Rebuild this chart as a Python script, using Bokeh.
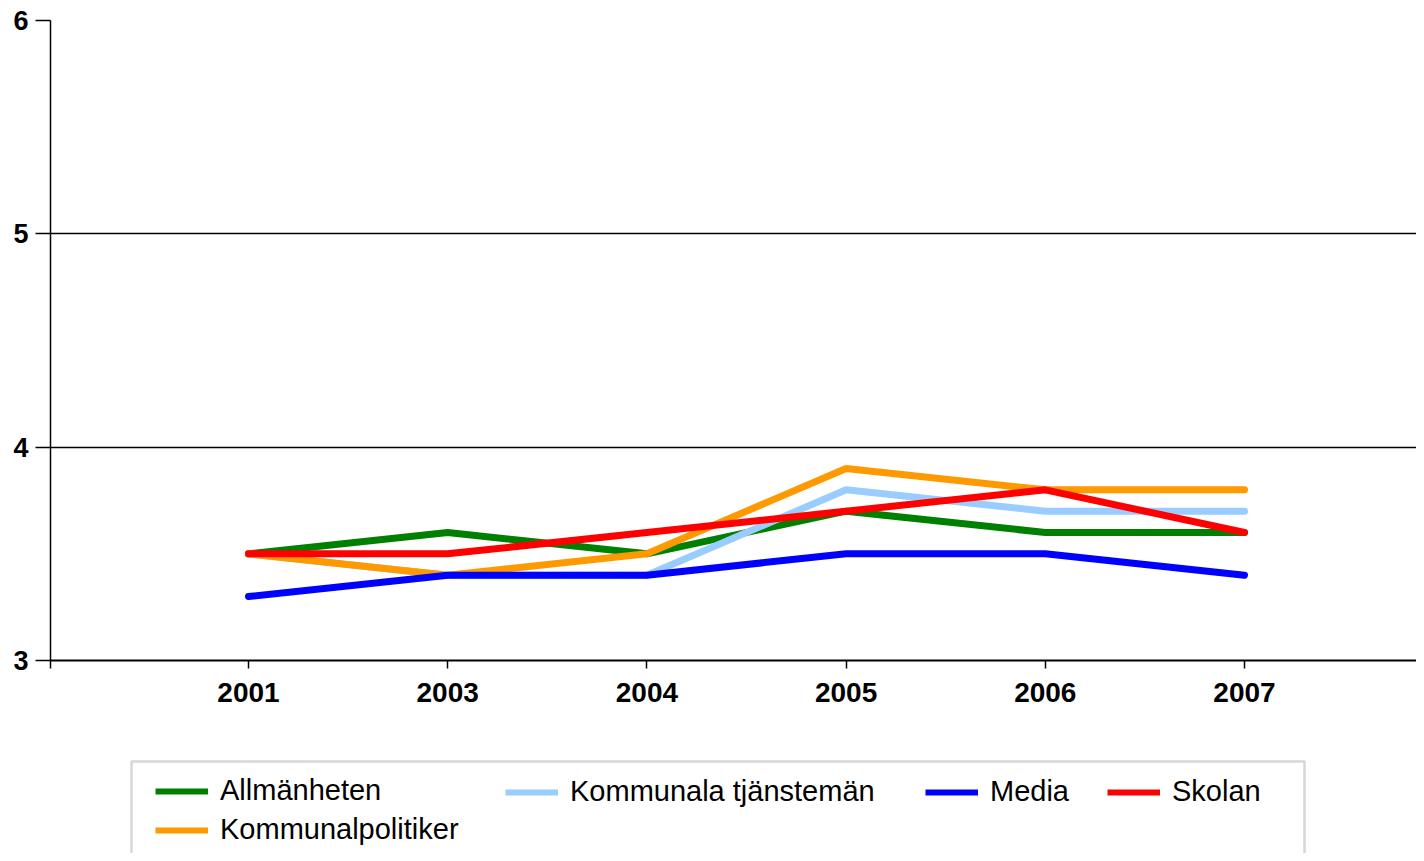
from bokeh.plotting import figure
from bokeh.models import Range1d, FixedTicker, Legend, LegendItem, BoxAnnotation
from bokeh.layouts import column
from bokeh.embed import file_html
from bokeh.resources import INLINE

years = ["2001", "2003", "2004", "2005", "2006", "2007"]
allmanheten = [3.5, 3.6, 3.5, 3.7, 3.6, 3.6]
kommunala_tjansteman = [3.5, 3.4, 3.4, 3.8, 3.7, 3.7]
media = [3.3, 3.4, 3.4, 3.5, 3.5, 3.4]
skolan = [3.5, 3.5, 3.6, 3.7, 3.8, 3.6]
kommunalpolitiker = [3.5, 3.4, 3.5, 3.9, 3.8, 3.8]
y_ticks = [3, 4, 5, 6]

series = [
    ("Allmänheten", allmanheten, "#008000"),
    ("Kommunala tjänstemän", kommunala_tjansteman, "#99CCFF"),
    ("Media", media, "#0000FF"),
    ("Skolan", skolan, "#FF0000"),
    ("Kommunalpolitiker", kommunalpolitiker, "#FF9900"),
]
draw_order = ["Allmänheten", "Kommunala tjänstemän", "Kommunalpolitiker", "Media", "Skolan"]
legend_columns = [["Allmänheten", "Kommunalpolitiker"], ["Kommunala tjänstemän"], ["Media"], ["Skolan"]]

xs = list(range(len(years)))
X0 = -0.994
W = 1416
H1 = 720
H2 = 853 - H1

p = figure(width=W, height=H1, output_backend="svg", toolbar_location=None,
           x_range=Range1d(X0, X0 + 1366 / 199.2), y_range=Range1d(3, 6),
           min_border_left=50, min_border_right=0, min_border_top=20, min_border_bottom=H1 - 660)
p.outline_line_color = None
p.border_fill_color = "white"

FONT = "Liberation Sans"
LW = 7

lookup = {name: (vals, col) for name, vals, col in series}
for name in draw_order:
    vals, col = lookup[name]
    p.line(xs, vals, line_color=col, line_width=LW, line_join="round", line_cap="round")

# y axis
p.yaxis.ticker = FixedTicker(ticks=y_ticks)
p.yaxis.major_label_text_font = FONT
p.yaxis.major_label_text_font_style = "bold"
p.yaxis.major_label_text_font_size = "27px"
p.yaxis.major_label_text_color = "black"
p.yaxis.major_tick_out = 15
p.yaxis.major_tick_in = 0
p.yaxis.minor_tick_line_color = None
p.yaxis.major_label_standoff = 7
p.yaxis.axis_line_width = 1.5
p.yaxis.major_tick_line_width = 1.5
p.yaxis.axis_line_color = "black"

# x axis
p.xaxis.ticker = FixedTicker(ticks=[X0] + xs)
p.xaxis.major_label_overrides = {**{i: y for i, y in enumerate(years)}, X0: ""}
p.xaxis.major_label_text_font = FONT
p.xaxis.major_label_text_font_style = "bold"
p.xaxis.major_label_text_font_size = "28px"
p.xaxis.major_label_text_color = "black"
p.xaxis.major_tick_out = 8
p.xaxis.major_tick_in = 0
p.xaxis.minor_tick_line_color = None
p.xaxis.major_label_standoff = 14
p.xaxis.axis_line_width = 2
p.xaxis.major_tick_line_width = 1.5
p.xaxis.axis_line_color = "black"

p.xgrid.grid_line_color = None
p.ygrid.ticker = FixedTicker(ticks=[4, 5, 6])
p.ygrid.grid_line_color = "black"
p.ygrid.grid_line_width = 1.5

# legend figure
p2 = figure(width=W, height=H2, output_backend="svg", toolbar_location=None,
            x_axis_type=None, y_axis_type=None, x_range=Range1d(0, 1), y_range=Range1d(0, 1),
            min_border=0)
p2.outline_line_color = None
p2.xgrid.grid_line_color = None
p2.ygrid.grid_line_color = None

# legend frame (screen units: x from frame left, y from frame bottom)
p2.add_layout(BoxAnnotation(left=81, right=1254, top=H2 - 41, bottom=-30,
                            left_units="screen", right_units="screen",
                            top_units="screen", bottom_units="screen",
                            fill_color=None, line_color="#7a7a7a", line_width=2.5))

leg_renderers = {}
for name, vals, col in series:
    leg_renderers[name] = p2.line([-5, -4], [-5, -4], line_color=col, line_width=6)

col_x = [105, 455, 875, 1057]   # frame-relative left of each legend column
ROW_TOP = 56                    # distance from top of legend figure to first row
for cx, names in zip(col_x, legend_columns):
    h = len(names) * 32 + (len(names) - 1) * 6
    leg = Legend(items=[LegendItem(label=n, renderers=[leg_renderers[n]]) for n in names],
                 location=(cx, H2 - ROW_TOP - h), orientation="vertical")
    leg.label_text_font = FONT
    leg.label_text_font_size = "29px"
    leg.label_text_color = "black"
    leg.glyph_width = 53
    leg.glyph_height = 32
    leg.label_height = 32
    leg.label_standoff = 12
    leg.spacing = 6
    leg.padding = 0
    leg.margin = 0
    leg.border_line_color = None
    leg.background_fill_alpha = 0
    p2.add_layout(leg, "center")

layout = column(p, p2, spacing=0)
open("out.html", "w").write(file_html(layout, INLINE))
